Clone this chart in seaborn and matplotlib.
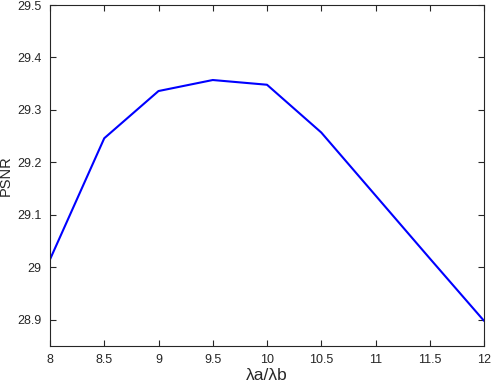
import pandas as pd
import numpy as np
import matplotlib
matplotlib.use("Agg")
import matplotlib.pyplot as plt
import seaborn as sns

# valores
ratio = [8, 8.5, 9, 9.5, 10, 10.5, 11, 11.5, 12]
psnr = [29.015, 29.246, 29.336, 29.357, 29.348, 29.257, 29.137, 29.017, 28.898]
xticks = [8, 8.5, 9, 9.5, 10, 10.5, 11, 11.5, 12]
xtick_labels = ['8', '8.5', '9', '9.5', '10', '10.5', '11', '11.5', '12']
yticks = [28.9, 29.0, 29.1, 29.2, 29.3, 29.4, 29.5]
ytick_labels = ['28.9', '29', '29.1', '29.2', '29.3', '29.4', '29.5']

df = pd.DataFrame({'ratio': ratio, 'PSNR': psnr})

sns.set_style("white")
plt.rcParams['font.family'] = ['Liberation Sans', 'DejaVu Sans']

fig = plt.figure(figsize=(4.91, 3.88), dpi=100)
ax = fig.add_axes([50 / 491, 1 - 346 / 388, 434 / 491, 341 / 388])

sns.lineplot(x='ratio', y='PSNR', data=df, color='#0000ff', linewidth=1.5, ax=ax)

ax.set_xlim(8, 12)
ax.set_ylim(28.85, 29.5)
ax.set_xticks(xticks)
ax.set_xticklabels(xtick_labels)
ax.set_yticks(yticks)
ax.set_yticklabels(ytick_labels)

ax.tick_params(direction='in', length=4, width=0.8, colors='#262626',
               labelsize=9, top=True, right=True, bottom=True, left=True, pad=6)
for s in ax.spines.values():
    s.set_color('#262626')
    s.set_linewidth(0.8)

ax.set_xlabel('λa/λb', fontsize=12.5, color='#262626', labelpad=1)
ax.set_ylabel('PSNR', fontsize=10.5, color='#262626', labelpad=3)

fig.savefig('out.png', dpi=100)
